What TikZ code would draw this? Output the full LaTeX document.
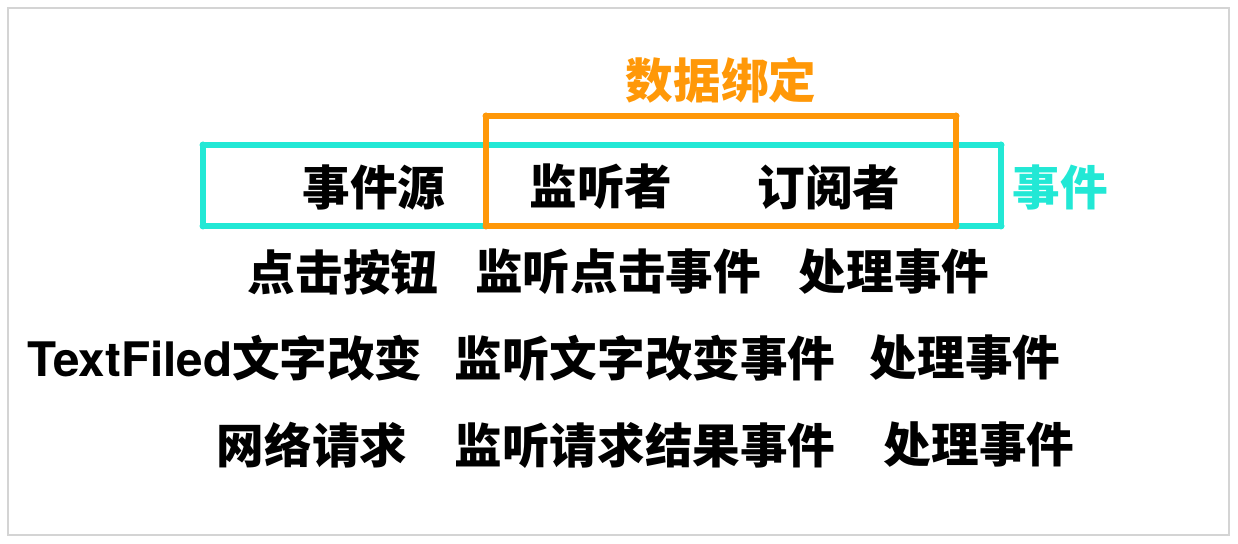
\documentclass[tikz,border=0pt]{standalone}
\usepackage{fontspec}
\setmainfont{Noto Sans CJK SC}
\newfontfamily\latinfont{texgyreheros-bold.otf}
\definecolor{teal1}{HTML}{22E8D5}
\definecolor{orange1}{HTML}{FF9808}
\definecolor{frame1}{HTML}{D4D4D4}
\begin{document}
\begin{tikzpicture}[x=0.5pt,y=-0.5pt,
  txt/.style={font=\fontsize{23.8}{27}\selectfont\bfseries, inner sep=0pt, anchor=center},
  boxline/.style={line width=2.8pt, line cap=round, line join=round}]
\useasboundingbox (0,0) rectangle (1238,544);
\draw[frame1, line width=1pt] (8,8) rectangle (1229,535);
% boxes
\draw[boxline, teal1] (203,145) rectangle (1001,226);
\draw[boxline, orange1] (486,116) rectangle (956,226);
\foreach \p in {(203,145),(1001,145),(203,226),(1001,226)} \fill[teal1] \p circle (3.5);
\foreach \p in {(486,116),(956,116),(486,226),(956,226)} \fill[orange1] \p circle (3.5);
\node[txt, orange1] (bind) at (721,80) {数据绑定};
\node[txt] (src) at (374,187) {事件源};
\node[txt] (lis) at (601,187) {监听者};
\node[txt] (sub) at (829,187) {订阅者};
\node[txt, teal1] (evt) at (1060,187) {事件};
\node[txt] (r1a) at (343,272) {点击按钮};
\node[txt] (r1b) at (618,272) {监听点击事件};
\node[txt] (r1c) at (894,272) {处理事件};
\node[txt] (r2a) at (225,358) {{\latinfont TextFiled}文字改变};
\node[txt] (r2b) at (645,358) {监听文字改变事件};
\node[txt] (r2c) at (965,358) {处理事件};
\node[txt] (r3a) at (312,445) {网络请求};
\node[txt] (r3b) at (645,445) {监听请求结果事件};
\node[txt] (r3c) at (979,445) {处理事件};
\end{tikzpicture}
\end{document}
